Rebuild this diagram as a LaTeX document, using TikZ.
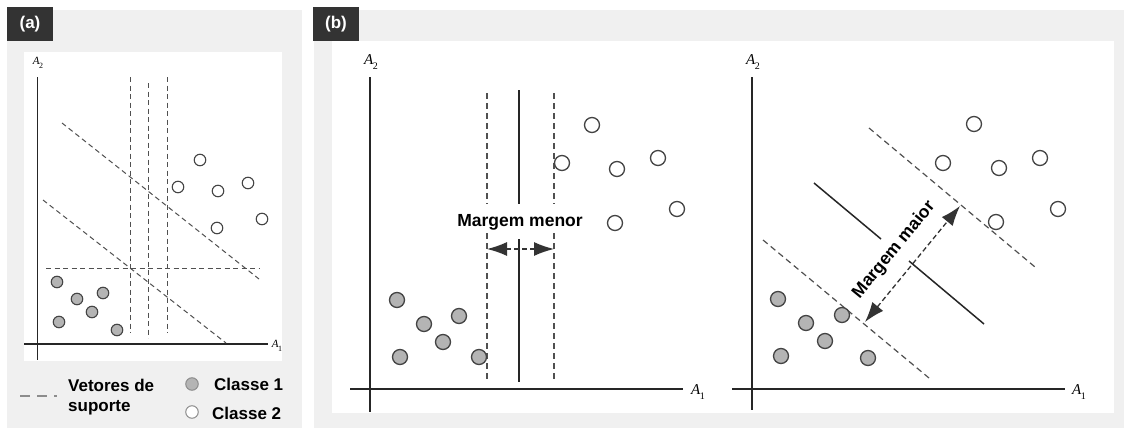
\documentclass[tikz,border=0pt]{standalone}
\usepackage{fontspec}
\setmainfont{Liberation Sans}
\newfontfamily\axfont{Liberation Serif}
\usetikzlibrary{arrows.meta}
\definecolor{panelgray}{HTML}{F0F0F0}
\definecolor{tagdark}{HTML}{333333}
\definecolor{dotgray}{HTML}{B4B4B4}
\definecolor{edgegray}{HTML}{444444}
\definecolor{dashgray}{HTML}{505050}
% axis name: letter, index, letter size, index size
\newcommand{\axlab}[4]{{\axfont\itshape\fontsize{#3}{#3}\selectfont #1\kern-0.3pt\raisebox{-0.3em}{\upshape\fontsize{#4}{#4}\selectfont #2}}}
\begin{document}
\begin{tikzpicture}[x=1pt,y=-1pt,
  tag/.style={fill=tagdark,text=white,font=\bfseries\fontsize{17}{17}\selectfont,inner sep=0pt,minimum width=46pt,minimum height=34pt},
  axis/.style={draw=black!85,line width=1.1pt},
  svA/.style={draw=dashgray,line width=1pt,dash pattern=on 5pt off 3.5pt},
  sv/.style={draw=dashgray,line width=1.2pt,dash pattern=on 6pt off 4pt},
  hyper/.style={draw=black!85,line width=1.5pt},
  cA/.style={circle,draw=edgegray,line width=1.1pt,fill=dotgray,minimum size=11.5pt,inner sep=0pt},
  oA/.style={circle,draw=edgegray,line width=1.1pt,fill=white,minimum size=11.5pt,inner sep=0pt},
  cB/.style={circle,draw=edgegray,line width=1.3pt,fill=dotgray,minimum size=15pt,inner sep=0pt},
  oB/.style={circle,draw=edgegray,line width=1.3pt,fill=white,minimum size=15pt,inner sep=0pt},
  lbl/.style={font=\bfseries\fontsize{17.5}{17.5}\selectfont,inner sep=0pt},
  leg/.style={font=\bfseries\fontsize{17}{17}\selectfont,inner sep=0pt,anchor=west},
  marg/.style={draw=black!80,line width=1.3pt,dash pattern=on 5pt off 3pt,
     {Latex[length=20pt,width=14pt]}-{Latex[length=20pt,width=14pt]}}]
\useasboundingbox (0,0) rectangle (1124,428);
\fill[white] (0,0) rectangle (1124,428);

% ---------- panel (a) ----------
\fill[panelgray] (7,10) rectangle (302,428);
\fill[white] (24,52) rectangle (282,361);
\node[tag] (taga) at (30,24) {(a)};

\draw[axis] (37.7,77) -- (37.7,360);
\draw[axis] (24,344) -- (268,344);
\node (a2a) at (38,63) {\axlab{A}{2}{11}{8}};
\node (a1a) at (277,346) {\axlab{A}{1}{11}{8}};

\draw[svA] (130,77) -- (130,333);
\draw[svA] (148,83) -- (148,338);
\draw[svA] (167,77) -- (167,333);
\draw[svA] (46,268) -- (260,268);
\draw[svA] (62,123) -- (259,279);
\draw[svA] (43,200) -- (226,343);

\node[oA] (pa1) at (200,160) {};
\node[oA] (pa2) at (178,187) {};
\node[oA] (pa3) at (218,191) {};
\node[oA] (pa4) at (248,183) {};
\node[oA] (pa5) at (262,219) {};
\node[oA] (pa6) at (217,228) {};
\node[cA] (qa1) at (57,282) {};
\node[cA] (qa2) at (77,299) {};
\node[cA] (qa3) at (103,293) {};
\node[cA] (qa4) at (92,312) {};
\node[cA] (qa5) at (59,322) {};
\node[cA] (qa6) at (117,330) {};

% legend
\coordinate (legl) at (20,396);
\coordinate (legr) at (57,396);
\draw[draw=black!45,line width=1.8pt,dash pattern=on 10pt off 7pt] (legl) -- (legr);
\node[leg] (legv1) at (68,385) {Vetores de};
\node[leg] (legv2) at (68,408) {suporte};
\node[circle,draw=black!45,line width=1pt,fill=dotgray,minimum size=12.5pt,inner sep=0pt] (legc1) at (192,384) {};
\node[circle,draw=black!45,line width=1pt,fill=white,minimum size=12.5pt,inner sep=0pt] (legc2) at (192,412) {};
\node[leg] (legt1) at (214,384) {Classe 1};
\node[leg] (legt2) at (212,413) {Classe 2};

% ---------- panel (b) ----------
\fill[panelgray] (314,10) rectangle (1124,428);
\fill[white] (332,41) rectangle (1114,413);
\node[tag] (tagb) at (336,24) {(b)};

% left plot: narrow margin
\draw[axis] (370,77) -- (370,412);
\draw[axis] (350,389) -- (683,389);
\node (a2b) at (371,62) {\axlab{A}{2}{15}{10}};
\node (a1b) at (698,392) {\axlab{A}{1}{15}{10}};

\draw[sv] (487,93) -- (487,204);
\draw[sv] (487,233) -- (487,380);
\draw[sv] (554,93) -- (554,204);
\draw[sv] (554,233) -- (554,380);
\draw[hyper] (519,90) -- (519,204);
\draw[hyper] (519,239) -- (519,382);
\node[lbl] (menor) at (520,222) {Margem menor};
\coordinate (ml) at (487,249);
\coordinate (mr) at (554,249);
\draw[marg] (ml) -- (mr);

\node[oB] (pb1) at (592,125) {};
\node[oB] (pb2) at (562,163) {};
\node[oB] (pb3) at (617,169) {};
\node[oB] (pb4) at (658,158) {};
\node[oB] (pb5) at (677,209) {};
\node[oB] (pb6) at (615,223) {};
\node[cB] (qb1) at (397,300) {};
\node[cB] (qb2) at (424,324) {};
\node[cB] (qb3) at (459,316) {};
\node[cB] (qb4) at (443,342) {};
\node[cB] (qb5) at (400,357) {};
\node[cB] (qb6) at (479,357) {};

% right plot: wide margin
\draw[axis] (752,77) -- (752,410);
\draw[axis] (732,389) -- (1065,389);
\node (a2c) at (753,62) {\axlab{A}{2}{15}{10}};
\node (a1c) at (1079,392) {\axlab{A}{1}{15}{10}};

\draw[sv] (869,128) -- (1035,267);
\draw[sv] (763,240) -- (929,378);
\draw[hyper] (814,183) -- (881,239);
\draw[hyper] (909,261) -- (984,324);

\coordinate (mlo) at (865,322);
\coordinate (mhi) at (960,206);
\draw[marg] (mlo) -- (mhi);
\node[lbl,rotate=50.7] (maior) at (894,250) {Margem maior};

\node[oB] (pc1) at (974,124) {};
\node[oB] (pc2) at (943,163) {};
\node[oB] (pc3) at (999,168) {};
\node[oB] (pc4) at (1040,158) {};
\node[oB] (pc5) at (1058,209) {};
\node[oB] (pc6) at (996,222) {};
\node[cB] (qc1) at (778,299) {};
\node[cB] (qc2) at (806,323) {};
\node[cB] (qc3) at (842,315) {};
\node[cB] (qc4) at (825,341) {};
\node[cB] (qc5) at (781,356) {};
\node[cB] (qc6) at (868,358) {};
\end{tikzpicture}
\end{document}
